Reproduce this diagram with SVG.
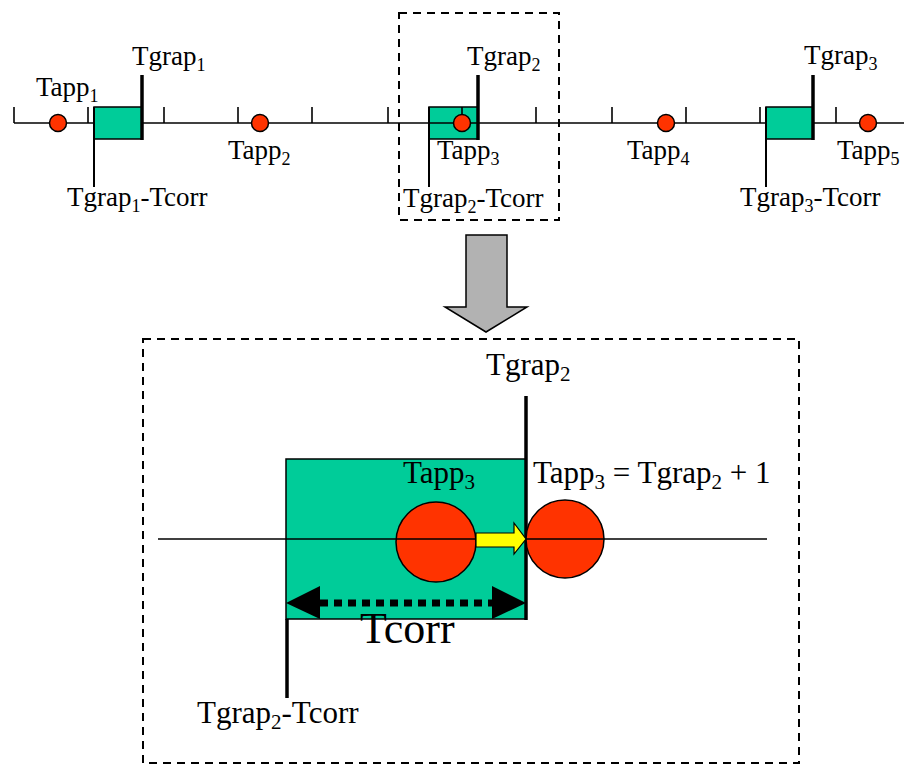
<svg xmlns="http://www.w3.org/2000/svg" width="904" height="764" viewBox="0 0 904 764">
<style>
text{font-family:"Liberation Serif","Times New Roman",serif;fill:#000}
.s{font-size:27px}
.m{font-size:31px}
.axis{stroke:#000;stroke-width:1.6;fill:none}
.tick{stroke:#000;stroke-width:1.6}
.gbox{fill:#00CC99;stroke:#000;stroke-width:1.5}
.dot{fill:#FF3300;stroke:#000;stroke-width:1.5}
.thick{stroke:#000;stroke-width:3.5}
.thin{stroke:#000;stroke-width:2}
.dash{fill:none;stroke:#000;stroke-width:2;stroke-dasharray:8 6}
</style>
<rect width="904" height="764" fill="#fff"/>

<g id="timeline">
<line class="axis" x1="14" y1="123" x2="904" y2="123"/>
<g class="tick">
<line x1="14" y1="107" x2="14" y2="123"/>
<line x1="88" y1="107" x2="88" y2="123"/>
<line x1="164" y1="107" x2="164" y2="123"/>
<line x1="238" y1="107" x2="238" y2="123"/>
<line x1="312" y1="107" x2="312" y2="123"/>
<line x1="388" y1="107" x2="388" y2="123"/>
<line x1="536" y1="107" x2="536" y2="123"/>
<line x1="612" y1="107" x2="612" y2="123"/>
<line x1="686" y1="107" x2="686" y2="123"/>
<line x1="760" y1="107" x2="760" y2="123"/>
<line x1="836" y1="107" x2="836" y2="123"/>
</g>
</g>

<g id="grap1">
<rect class="gbox" x="94" y="107" width="48" height="32"/>
<line class="thick" x1="142" y1="75" x2="142" y2="140"/>
<line class="thin" x1="94" y1="107" x2="94" y2="187"/>
<text class="s" x="132" y="65">Tgrap<tspan font-size="18" dy="6">1</tspan></text>
<text class="s" x="67" y="206">Tgrap<tspan font-size="18" dy="6">1</tspan><tspan dy="-6">-Tcorr</tspan></text>
</g>

<g id="grap2">
<rect class="gbox" x="429" y="107" width="49" height="32"/>
<line class="tick" x1="462" y1="107" x2="462" y2="123"/>
<line class="axis" x1="429" y1="123" x2="478" y2="123"/>
<line class="thick" x1="478" y1="75" x2="478" y2="140"/>
<line class="thin" x1="429" y1="107" x2="429" y2="187"/>
<text class="s" x="467" y="65">Tgrap<tspan font-size="18" dy="6">2</tspan></text>
<text class="s" x="403" y="207">Tgrap<tspan font-size="18" dy="6">2</tspan><tspan dy="-6">-Tcorr</tspan></text>
</g>

<g id="grap3">
<rect class="gbox" x="766" y="107" width="47" height="32"/>
<line class="thick" x1="813" y1="75" x2="813" y2="140"/>
<line class="thin" x1="766" y1="107" x2="766" y2="187"/>
<text class="s" x="804" y="64">Tgrap<tspan font-size="18" dy="6">3</tspan></text>
<text class="s" x="740" y="206">Tgrap<tspan font-size="18" dy="6">3</tspan><tspan dy="-6">-Tcorr</tspan></text>
</g>

<g id="app1">
<circle class="dot" cx="58" cy="123" r="8.5"/>
<text class="s" x="36" y="96">Tapp<tspan font-size="18" dy="6">1</tspan></text>
</g>
<g id="app2">
<circle class="dot" cx="260" cy="123" r="8.5"/>
<text class="s" x="228" y="159">Tapp<tspan font-size="18" dy="6">2</tspan></text>
</g>
<g id="app3">
<circle class="dot" cx="462" cy="123" r="8.5"/>
<text class="s" x="437" y="159">Tapp<tspan font-size="18" dy="6">3</tspan></text>
</g>
<g id="app4">
<circle class="dot" cx="666" cy="123" r="8.5"/>
<text class="s" x="627" y="159">Tapp<tspan font-size="18" dy="6">4</tspan></text>
</g>
<g id="app5">
<circle class="dot" cx="868" cy="123" r="8.5"/>
<text class="s" x="837" y="159">Tapp<tspan font-size="18" dy="6">5</tspan></text>
</g>

<g id="focus">
<rect class="dash" x="399" y="13" width="160" height="207"/>
</g>

<g id="connectors">
<polygon points="466,235 507,235 507,307 527,307 486,332 445,307 466,307" fill="#B2B2B2" stroke="#000" stroke-width="1.5" stroke-linejoin="miter"/>
</g>

<g id="detail">
<rect class="dash" x="143" y="339" width="656" height="424"/>
<rect class="gbox" x="286" y="459" width="240" height="160"/>
<line class="axis" x1="158" y1="539" x2="767" y2="539"/>
<line class="thick" x1="526" y1="396" x2="526" y2="620"/>
<line class="thick" x1="287" y1="619" x2="287" y2="698"/>
<circle class="dot" cx="436" cy="542" r="40"/>
<line class="axis" x1="396" y1="539" x2="476" y2="539"/>
<circle class="dot" cx="565" cy="539" r="39"/>
<line class="axis" x1="526" y1="539" x2="604" y2="539"/>
<polygon points="476,533 514,533 514,523 526,539 514,554 514,547 476,547" fill="#FFFF00" stroke="#000" stroke-width="1.2"/>
<line x1="320" y1="603" x2="492" y2="603" stroke="#000" stroke-width="7" stroke-dasharray="8 6"/>
<polygon points="286,603 320,586 320,619" fill="#000"/>
<polygon points="526,603 492,586 492,619" fill="#000"/>
<text class="m" x="486" y="375">Tgrap<tspan font-size="21" dy="6">2</tspan></text>
<text class="m" x="403" y="483">Tapp<tspan font-size="21" dy="6">3</tspan></text>
<text class="m" x="533" y="483">Tapp<tspan font-size="21" dy="6">3</tspan><tspan dy="-6"> = Tgrap</tspan><tspan font-size="21" dy="6">2</tspan><tspan dy="-6"> + 1</tspan></text>
<text x="360" y="643" font-size="44">Tcorr</text>
<text class="m" x="197" y="723">Tgrap<tspan font-size="21" dy="6">2</tspan><tspan dy="-6">-Tcorr</tspan></text>
</g>
</svg>
